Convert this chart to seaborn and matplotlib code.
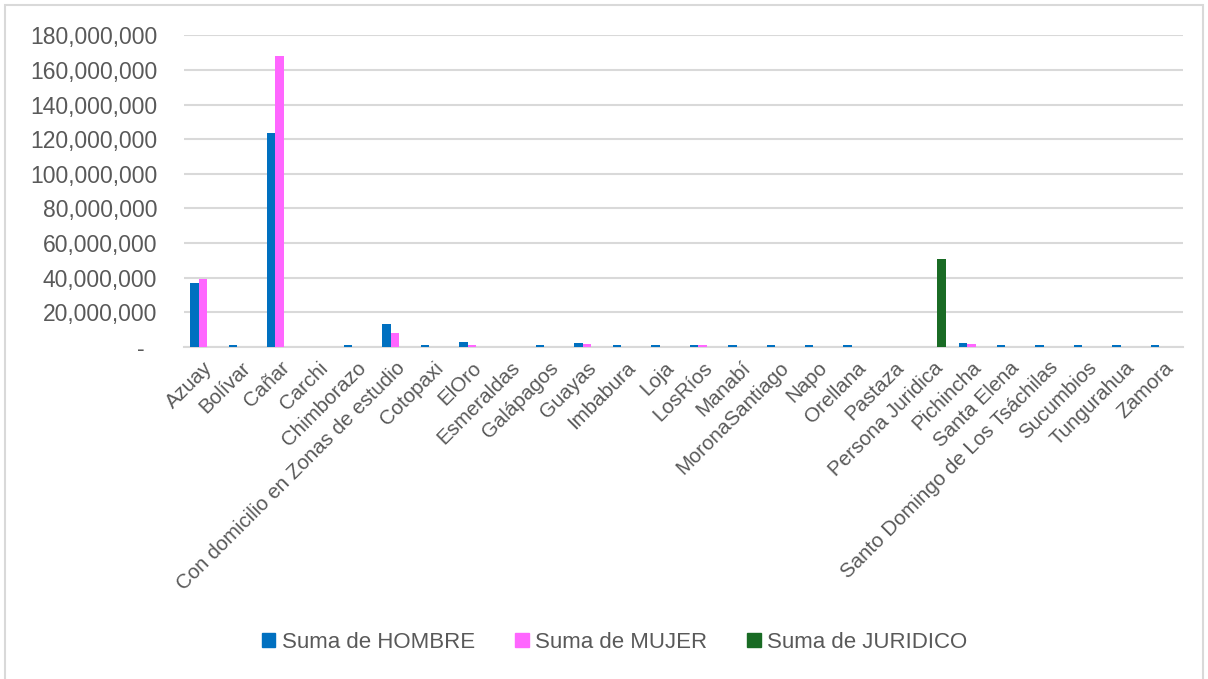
import matplotlib
matplotlib.use("Agg")
import matplotlib.pyplot as plt
import matplotlib.patches as mpatches
from matplotlib.ticker import FuncFormatter, MultipleLocator
import seaborn as sns
import pandas as pd

categories = ["Azuay", "Bolívar", "Cañar", "Carchi", "Chimborazo",
              "Con domicilio en Zonas de estudio", "Cotopaxi", "ElOro",
              "Esmeraldas", "Galápagos", "Guayas", "Imbabura", "Loja",
              "LosRíos", "Manabí", "MoronaSantiago", "Napo", "Orellana",
              "Pastaza", "Persona Juridica", "Pichincha", "Santa Elena",
              "Santo Domingo de Los Tsáchilas", "Sucumbios", "Tungurahua",
              "Zamora"]

hombre = [36.8e6, 1.2e6, 123.5e6, 0, 1.2e6, 13.3e6, 1.2e6, 2.9e6, 0, 1.2e6,
          2.1e6, 1.2e6, 1.2e6, 1.2e6, 1.2e6, 1.2e6, 1.2e6, 1.2e6, 0, 0,
          2.2e6, 1.2e6, 1.2e6, 1.2e6, 1.2e6, 1.2e6]
mujer = [39.2e6, 0.15e6, 167.8e6, 0, 0.15e6, 8.2e6, 0.15e6, 1.4e6, 0, 0.15e6,
         2.0e6, 0.15e6, 0.15e6, 1.0e6, 0.15e6, 0.15e6, 0.15e6, 0.15e6, 0, 0,
         2.0e6, 0.15e6, 0.15e6, 0.15e6, 0.15e6, 0.15e6]
juridico = [0] * 19 + [50.9e6] + [0] * 6

series_names = ["Suma de HOMBRE", "Suma de MUJER", "Suma de JURIDICO"]
colors = ["#0070C0", "#FF66FF", "#196B24"]

df = pd.DataFrame({"Provincia": categories,
                   series_names[0]: hombre,
                   series_names[1]: mujer,
                   series_names[2]: juridico})
long = df.melt(id_vars="Provincia", var_name="Serie", value_name="Valor")

sns.set_theme(style="white")
plt.rcParams["font.family"] = ["Liberation Sans", "DejaVu Sans"]

fig = plt.figure(figsize=(12.08, 6.79), dpi=100)
ax = fig.add_axes([0.152, 0.489, 0.827, 0.459])

sns.barplot(data=long, x="Provincia", y="Valor", hue="Serie",
            hue_order=series_names, order=categories,
            palette=colors, width=0.66, saturation=1, ax=ax,
            linewidth=0, legend=False, errorbar=None)
for p in ax.patches:
    p.set_zorder(3)

ax.set_xlim(-0.5, len(categories) - 0.5)
ax.set_ylim(0, 180e6)
ax.yaxis.set_major_locator(MultipleLocator(20e6))
ax.yaxis.set_major_formatter(FuncFormatter(
    lambda v, p: "-  " if abs(v) < 1 else f"{v:,.0f}"))
ax.grid(axis="y", color="#D9D9D9", linewidth=1.5)
ax.set_axisbelow(True)
for s in ["top", "right", "left"]:
    ax.spines[s].set_visible(False)
ax.spines["bottom"].set_color("#D9D9D9")
ax.spines["bottom"].set_linewidth(1.5)
ax.spines["bottom"].set_zorder(1)
ax.set_xlabel("")
ax.set_ylabel("")
ax.tick_params(axis="y", length=0, pad=19, labelsize=16.5, labelcolor="#595959")
ax.tick_params(axis="x", length=0, pad=8, labelsize=14.8, labelcolor="#595959")
ax.set_xticks(range(len(categories)))
ax.set_xticklabels(categories, rotation=45, ha="right",
                   rotation_mode="anchor", va="top")

handles = [mpatches.Patch(color=c, label=n) for c, n in zip(colors, series_names)]
fig.legend(handles=handles, loc="center", bbox_to_anchor=(0.509, 0.054),
           ncol=3, frameon=False, fontsize=16, labelcolor="#595959",
           handlelength=0.6, handleheight=0.6, handletextpad=0.3,
           columnspacing=1.8)

border = mpatches.Rectangle((0.004, -0.01), 0.992, 1.003, transform=fig.transFigure,
                            fill=False, edgecolor="#D9D9D9", linewidth=1.5)
fig.patches.append(border)

fig.savefig("out.png", dpi=100)
